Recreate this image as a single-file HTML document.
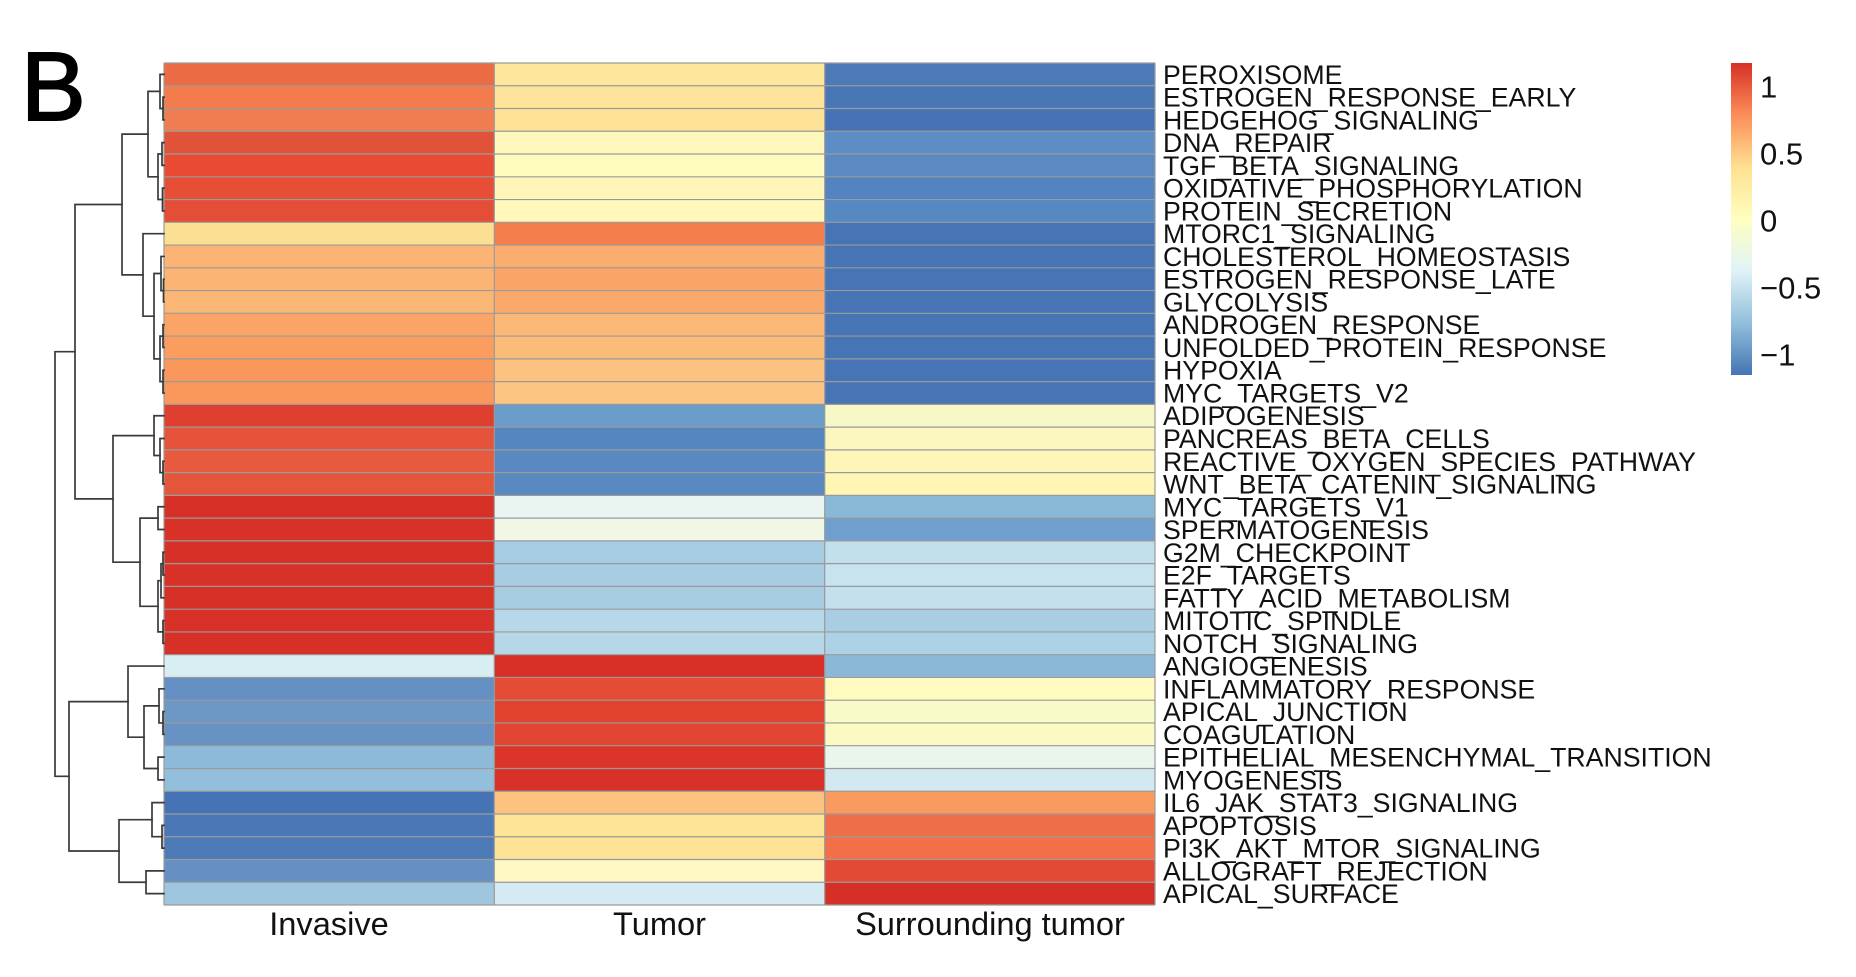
<!DOCTYPE html>
<html><head><meta charset="utf-8"><style>
html,body{margin:0;padding:0;background:#fff;}
svg{display:block;}
text{font-family:"Liberation Sans",Arial,sans-serif;}
</style></head><body>
<svg width="1856" height="977" viewBox="0 0 1856 977" xmlns="http://www.w3.org/2000/svg">
<defs>
<linearGradient id="lg" x1="0" y1="0" x2="0" y2="1">
<stop offset="0" stop-color="#D73027"/>
<stop offset="0.1667" stop-color="#FC8D59"/>
<stop offset="0.3333" stop-color="#FEE090"/>
<stop offset="0.5" stop-color="#FFFFBF"/>
<stop offset="0.6667" stop-color="#E0F3F8"/>
<stop offset="0.8333" stop-color="#91BFDB"/>
<stop offset="1" stop-color="#4575B4"/>
</linearGradient>
</defs>
<rect width="1856" height="977" fill="#fff"/>
<text x="21" y="120" font-size="97" fill="#000" stroke="#000" stroke-width="2">B</text>

<!-- Invasive column -->
<g>
<rect x="164" y="63.00" width="330.4" height="22.8" fill="#EC6B45"/>
<rect x="164" y="85.76" width="330.4" height="22.8" fill="#F47B4C"/>
<rect x="164" y="108.51" width="330.4" height="22.8" fill="#F07C52"/>
<rect x="164" y="131.27" width="330.4" height="22.8" fill="#E0533A"/>
<rect x="164" y="154.03" width="330.4" height="22.8" fill="#E84A33"/>
<rect x="164" y="176.79" width="330.4" height="22.8" fill="#E64E36"/>
<rect x="164" y="199.54" width="330.4" height="22.8" fill="#E54E36"/>
<rect x="164" y="222.30" width="330.4" height="22.8" fill="#FBE094"/>
<rect x="164" y="245.06" width="330.4" height="22.8" fill="#FBB474"/>
<rect x="164" y="267.81" width="330.4" height="22.8" fill="#FBB474"/>
<rect x="164" y="290.57" width="330.4" height="22.8" fill="#FBB676"/>
<rect x="164" y="313.33" width="330.4" height="22.8" fill="#FBA466"/>
<rect x="164" y="336.08" width="330.4" height="22.8" fill="#FA9D5F"/>
<rect x="164" y="358.84" width="330.4" height="22.8" fill="#FA985B"/>
<rect x="164" y="381.60" width="330.4" height="22.8" fill="#FA985B"/>
<rect x="164" y="404.36" width="330.4" height="22.8" fill="#DF3F2E"/>
<rect x="164" y="427.11" width="330.4" height="22.8" fill="#E5533A"/>
<rect x="164" y="449.87" width="330.4" height="22.8" fill="#E85A3E"/>
<rect x="164" y="472.63" width="330.4" height="22.8" fill="#E5553A"/>
<rect x="164" y="495.38" width="330.4" height="22.8" fill="#D73027"/>
<rect x="164" y="518.14" width="330.4" height="22.8" fill="#D83128"/>
<rect x="164" y="540.90" width="330.4" height="22.8" fill="#D73027"/>
<rect x="164" y="563.65" width="330.4" height="22.8" fill="#D83128"/>
<rect x="164" y="586.41" width="330.4" height="22.8" fill="#D73027"/>
<rect x="164" y="609.17" width="330.4" height="22.8" fill="#D83128"/>
<rect x="164" y="631.93" width="330.4" height="22.8" fill="#D73027"/>
<rect x="164" y="654.68" width="330.4" height="22.8" fill="#D8EEF3"/>
<rect x="164" y="677.44" width="330.4" height="22.8" fill="#6490C4"/>
<rect x="164" y="700.20" width="330.4" height="22.8" fill="#6D98C5"/>
<rect x="164" y="722.95" width="330.4" height="22.8" fill="#6892C3"/>
<rect x="164" y="745.71" width="330.4" height="22.8" fill="#8EBADA"/>
<rect x="164" y="768.47" width="330.4" height="22.8" fill="#93BEDC"/>
<rect x="164" y="791.22" width="330.4" height="22.8" fill="#4673B5"/>
<rect x="164" y="813.98" width="330.4" height="22.8" fill="#4A78B7"/>
<rect x="164" y="836.74" width="330.4" height="22.8" fill="#4D7BB8"/>
<rect x="164" y="859.50" width="330.4" height="22.8" fill="#6690C4"/>
<rect x="164" y="882.25" width="330.4" height="22.76" fill="#9EC6DF"/>
</g>

<!-- Tumor column -->
<g>
<rect x="494.3" y="63.00" width="330.4" height="22.8" fill="#FEE69C"/>
<rect x="494.3" y="85.76" width="330.4" height="22.8" fill="#FEE49A"/>
<rect x="494.3" y="108.51" width="330.4" height="22.8" fill="#FEE298"/>
<rect x="494.3" y="131.27" width="330.4" height="22.8" fill="#FFF8BC"/>
<rect x="494.3" y="154.03" width="330.4" height="22.8" fill="#FFFABE"/>
<rect x="494.3" y="176.79" width="330.4" height="22.8" fill="#FFF6B7"/>
<rect x="494.3" y="199.54" width="330.4" height="22.8" fill="#FFF8BA"/>
<rect x="494.3" y="222.30" width="330.4" height="22.8" fill="#F57E4D"/>
<rect x="494.3" y="245.06" width="330.4" height="22.8" fill="#FBAD6E"/>
<rect x="494.3" y="267.81" width="330.4" height="22.8" fill="#FAA468"/>
<rect x="494.3" y="290.57" width="330.4" height="22.8" fill="#FAA86A"/>
<rect x="494.3" y="313.33" width="330.4" height="22.8" fill="#FBB877"/>
<rect x="494.3" y="336.08" width="330.4" height="22.8" fill="#FBBC7A"/>
<rect x="494.3" y="358.84" width="330.4" height="22.8" fill="#FCC27F"/>
<rect x="494.3" y="381.60" width="330.4" height="22.8" fill="#FCC583"/>
<rect x="494.3" y="404.36" width="330.4" height="22.8" fill="#6B9DCB"/>
<rect x="494.3" y="427.11" width="330.4" height="22.8" fill="#5686BF"/>
<rect x="494.3" y="449.87" width="330.4" height="22.8" fill="#5989C0"/>
<rect x="494.3" y="472.63" width="330.4" height="22.8" fill="#5A89C1"/>
<rect x="494.3" y="495.38" width="330.4" height="22.8" fill="#EAF5F2"/>
<rect x="494.3" y="518.14" width="330.4" height="22.8" fill="#F0F7E4"/>
<rect x="494.3" y="540.90" width="330.4" height="22.8" fill="#A5CCE2"/>
<rect x="494.3" y="563.65" width="330.4" height="22.8" fill="#A8CDE2"/>
<rect x="494.3" y="586.41" width="330.4" height="22.8" fill="#A7CCE2"/>
<rect x="494.3" y="609.17" width="330.4" height="22.8" fill="#B6D8E8"/>
<rect x="494.3" y="631.93" width="330.4" height="22.8" fill="#B5D7E8"/>
<rect x="494.3" y="654.68" width="330.4" height="22.8" fill="#D83027"/>
<rect x="494.3" y="677.44" width="330.4" height="22.8" fill="#E44C36"/>
<rect x="494.3" y="700.20" width="330.4" height="22.8" fill="#E2432F"/>
<rect x="494.3" y="722.95" width="330.4" height="22.8" fill="#E24532"/>
<rect x="494.3" y="745.71" width="330.4" height="22.8" fill="#DB352A"/>
<rect x="494.3" y="768.47" width="330.4" height="22.8" fill="#D93028"/>
<rect x="494.3" y="791.22" width="330.4" height="22.8" fill="#FCC27F"/>
<rect x="494.3" y="813.98" width="330.4" height="22.8" fill="#FEE497"/>
<rect x="494.3" y="836.74" width="330.4" height="22.8" fill="#FEE396"/>
<rect x="494.3" y="859.50" width="330.4" height="22.8" fill="#FFF8C4"/>
<rect x="494.3" y="882.25" width="330.4" height="22.76" fill="#D5EAF3"/>
</g>

<!-- Surrounding tumor column -->
<g>
<rect x="824.7" y="63.00" width="330.3" height="22.8" fill="#4E7BB7"/>
<rect x="824.7" y="85.76" width="330.3" height="22.8" fill="#4976B5"/>
<rect x="824.7" y="108.51" width="330.3" height="22.8" fill="#4673B5"/>
<rect x="824.7" y="131.27" width="330.3" height="22.8" fill="#5D8DC5"/>
<rect x="824.7" y="154.03" width="330.3" height="22.8" fill="#5B8AC3"/>
<rect x="824.7" y="176.79" width="330.3" height="22.8" fill="#5383C0"/>
<rect x="824.7" y="199.54" width="330.3" height="22.8" fill="#5688C2"/>
<rect x="824.7" y="222.30" width="330.3" height="22.8" fill="#4674B5"/>
<rect x="824.7" y="245.06" width="330.3" height="22.8" fill="#4674B5"/>
<rect x="824.7" y="267.81" width="330.3" height="22.8" fill="#4674B5"/>
<rect x="824.7" y="290.57" width="330.3" height="22.8" fill="#4674B5"/>
<rect x="824.7" y="313.33" width="330.3" height="22.8" fill="#4674B5"/>
<rect x="824.7" y="336.08" width="330.3" height="22.8" fill="#4674B5"/>
<rect x="824.7" y="358.84" width="330.3" height="22.8" fill="#4674B5"/>
<rect x="824.7" y="381.60" width="330.3" height="22.8" fill="#4674B5"/>
<rect x="824.7" y="404.36" width="330.3" height="22.8" fill="#F6F8C6"/>
<rect x="824.7" y="427.11" width="330.3" height="22.8" fill="#FCF7BE"/>
<rect x="824.7" y="449.87" width="330.3" height="22.8" fill="#FEF6B8"/>
<rect x="824.7" y="472.63" width="330.3" height="22.8" fill="#FFF6B4"/>
<rect x="824.7" y="495.38" width="330.3" height="22.8" fill="#8AB9D7"/>
<rect x="824.7" y="518.14" width="330.3" height="22.8" fill="#6F9FCD"/>
<rect x="824.7" y="540.90" width="330.3" height="22.8" fill="#C2E0EC"/>
<rect x="824.7" y="563.65" width="330.3" height="22.8" fill="#C8E3EE"/>
<rect x="824.7" y="586.41" width="330.3" height="22.8" fill="#C3E0EC"/>
<rect x="824.7" y="609.17" width="330.3" height="22.8" fill="#A9CEE3"/>
<rect x="824.7" y="631.93" width="330.3" height="22.8" fill="#ADD1E5"/>
<rect x="824.7" y="654.68" width="330.3" height="22.8" fill="#8BB8D9"/>
<rect x="824.7" y="677.44" width="330.3" height="22.8" fill="#FFFBC0"/>
<rect x="824.7" y="700.20" width="330.3" height="22.8" fill="#F8FAC8"/>
<rect x="824.7" y="722.95" width="330.3" height="22.8" fill="#FBFAC2"/>
<rect x="824.7" y="745.71" width="330.3" height="22.8" fill="#EAF5EC"/>
<rect x="824.7" y="768.47" width="330.3" height="22.8" fill="#D2E9F2"/>
<rect x="824.7" y="791.22" width="330.3" height="22.8" fill="#F99B5E"/>
<rect x="824.7" y="813.98" width="330.3" height="22.8" fill="#EE6E49"/>
<rect x="824.7" y="836.74" width="330.3" height="22.8" fill="#F26F47"/>
<rect x="824.7" y="859.50" width="330.3" height="22.8" fill="#E24A36"/>
<rect x="824.7" y="882.25" width="330.3" height="22.76" fill="#D62F27"/>
</g>

<!-- grid lines (grey60) -->
<g stroke="#9a9a9a" stroke-width="1.2" fill="none">
<path d="M164 63.00H1155M164 85.76H1155M164 108.51H1155M164 131.27H1155M164 154.03H1155M164 176.79H1155M164 199.54H1155M164 222.30H1155M164 245.06H1155M164 267.81H1155M164 290.57H1155M164 313.33H1155M164 336.08H1155M164 358.84H1155M164 381.60H1155M164 404.36H1155M164 427.11H1155M164 449.87H1155M164 472.63H1155M164 495.38H1155M164 518.14H1155M164 540.90H1155M164 563.65H1155M164 586.41H1155M164 609.17H1155M164 631.93H1155M164 654.68H1155M164 677.44H1155M164 700.20H1155M164 722.95H1155M164 745.71H1155M164 768.47H1155M164 791.22H1155M164 813.98H1155M164 836.74H1155M164 859.50H1155M164 882.25H1155M164 905.01H1155"/>
<path d="M164 63V905M494.3 63V905M824.7 63V905M1155 63V905"/>
</g>

<!-- dendrogram -->
<g stroke="#3a3a3a" stroke-width="1.7" fill="none" stroke-linecap="square">
<path d="M164 97.14H163V119.89H164"/>
<path d="M164 74.38H160V108.5H163"/>
<path d="M164 142.65H162V165.41H164"/>
<path d="M164 188.16H162.5V210.92H164"/>
<path d="M162 154H158V199.5H162.5"/>
<path d="M160 91.4H148V176.8H158"/>
<path d="M164 279.19H163.5V301.95H164"/>
<path d="M164 256.44H161V290.6H163.5"/>
<path d="M164 324.71H163V347.46H164"/>
<path d="M164 370.22H163V392.98H164"/>
<path d="M163 336.1H160V381.6H163"/>
<path d="M161 273.5H154V358.9H160"/>
<path d="M164 233.68H143V316.2H154"/>
<path d="M148 134.1H122V274.9H143"/>
<path d="M164 461.25H163V484.01H164"/>
<path d="M164 438.49H160V472.6H163"/>
<path d="M164 415.73H154V455.5H160"/>
<path d="M164 506.76H158V529.52H164"/>
<path d="M164 552.28H163V575.03H164"/>
<path d="M163 563.7H161V597.79H164"/>
<path d="M164 620.55H163V643.3H164"/>
<path d="M161 580.7H158V631.9H163"/>
<path d="M158 518.1H140V606.3H158"/>
<path d="M154 435.6H113V562.2H140"/>
<path d="M122 204.5H75V498.9H113"/>
<path d="M164 711.57H163V734.33H164"/>
<path d="M164 688.82H159V722.95H163"/>
<path d="M164 757.09H158V779.85H164"/>
<path d="M159 705.9H144V768.5H158"/>
<path d="M164 666.06H128V737.2H144"/>
<path d="M164 825.36H162V848.12H164"/>
<path d="M164 802.6H152V836.7H162"/>
<path d="M164 870.87H146V893.63H164"/>
<path d="M152 819.7H119V882.25H146"/>
<path d="M128 701.6H69V851H119"/>
<path d="M75 351.7H55V776.3H69"/>
</g>

<!-- row labels -->
<g font-size="26.7" fill="#111">
<text x="1163" y="83.9">PEROXISOME</text>
<text x="1163" y="106.6">ESTROGEN_RESPONSE_EARLY</text>
<text x="1163" y="129.4">HEDGEHOG_SIGNALING</text>
<text x="1163" y="152.2">DNA_REPAIR</text>
<text x="1163" y="174.9">TGF_BETA_SIGNALING</text>
<text x="1163" y="197.7">OXIDATIVE_PHOSPHORYLATION</text>
<text x="1163" y="220.4">PROTEIN_SECRETION</text>
<text x="1163" y="243.2">MTORC1_SIGNALING</text>
<text x="1163" y="265.9">CHOLESTEROL_HOMEOSTASIS</text>
<text x="1163" y="288.7">ESTROGEN_RESPONSE_LATE</text>
<text x="1163" y="311.5">GLYCOLYSIS</text>
<text x="1163" y="334.2">ANDROGEN_RESPONSE</text>
<text x="1163" y="357.0">UNFOLDED_PROTEIN_RESPONSE</text>
<text x="1163" y="379.7">HYPOXIA</text>
<text x="1163" y="402.5">MYC_TARGETS_V2</text>
<text x="1163" y="425.2">ADIPOGENESIS</text>
<text x="1163" y="448.0">PANCREAS_BETA_CELLS</text>
<text x="1163" y="470.8">REACTIVE_OXYGEN_SPECIES_PATHWAY</text>
<text x="1163" y="493.5">WNT_BETA_CATENIN_SIGNALING</text>
<text x="1163" y="516.3">MYC_TARGETS_V1</text>
<text x="1163" y="539.0">SPERMATOGENESIS</text>
<text x="1163" y="561.8">G2M_CHECKPOINT</text>
<text x="1163" y="584.5">E2F_TARGETS</text>
<text x="1163" y="607.3">FATTY_ACID_METABOLISM</text>
<text x="1163" y="630.1">MITOTIC_SPINDLE</text>
<text x="1163" y="652.8">NOTCH_SIGNALING</text>
<text x="1163" y="675.6">ANGIOGENESIS</text>
<text x="1163" y="698.3">INFLAMMATORY_RESPONSE</text>
<text x="1163" y="721.1">APICAL_JUNCTION</text>
<text x="1163" y="743.8">COAGULATION</text>
<text x="1163" y="766.6">EPITHELIAL_MESENCHYMAL_TRANSITION</text>
<text x="1163" y="789.4">MYOGENESIS</text>
<text x="1163" y="812.1">IL6_JAK_STAT3_SIGNALING</text>
<text x="1163" y="834.9">APOPTOSIS</text>
<text x="1163" y="857.6">PI3K_AKT_MTOR_SIGNALING</text>
<text x="1163" y="880.4">ALLOGRAFT_REJECTION</text>
<text x="1163" y="903.1">APICAL_SURFACE</text>
</g>

<!-- column labels -->
<g font-size="32.6" fill="#111" text-anchor="middle">
<text x="329" y="935">Invasive</text>
<text x="659.5" y="935">Tumor</text>
<text x="990" y="935">Surrounding tumor</text>
</g>

<!-- legend -->
<rect x="1731" y="63" width="21" height="312" fill="url(#lg)"/>
<g font-size="31" fill="#111">
<text x="1760" y="97.5">1</text>
<text x="1760" y="164.5">0.5</text>
<text x="1760" y="231.5">0</text>
<text x="1760" y="298.5">−0.5</text>
<text x="1760" y="365.5">−1</text>
</g>
</svg>
</body></html>
